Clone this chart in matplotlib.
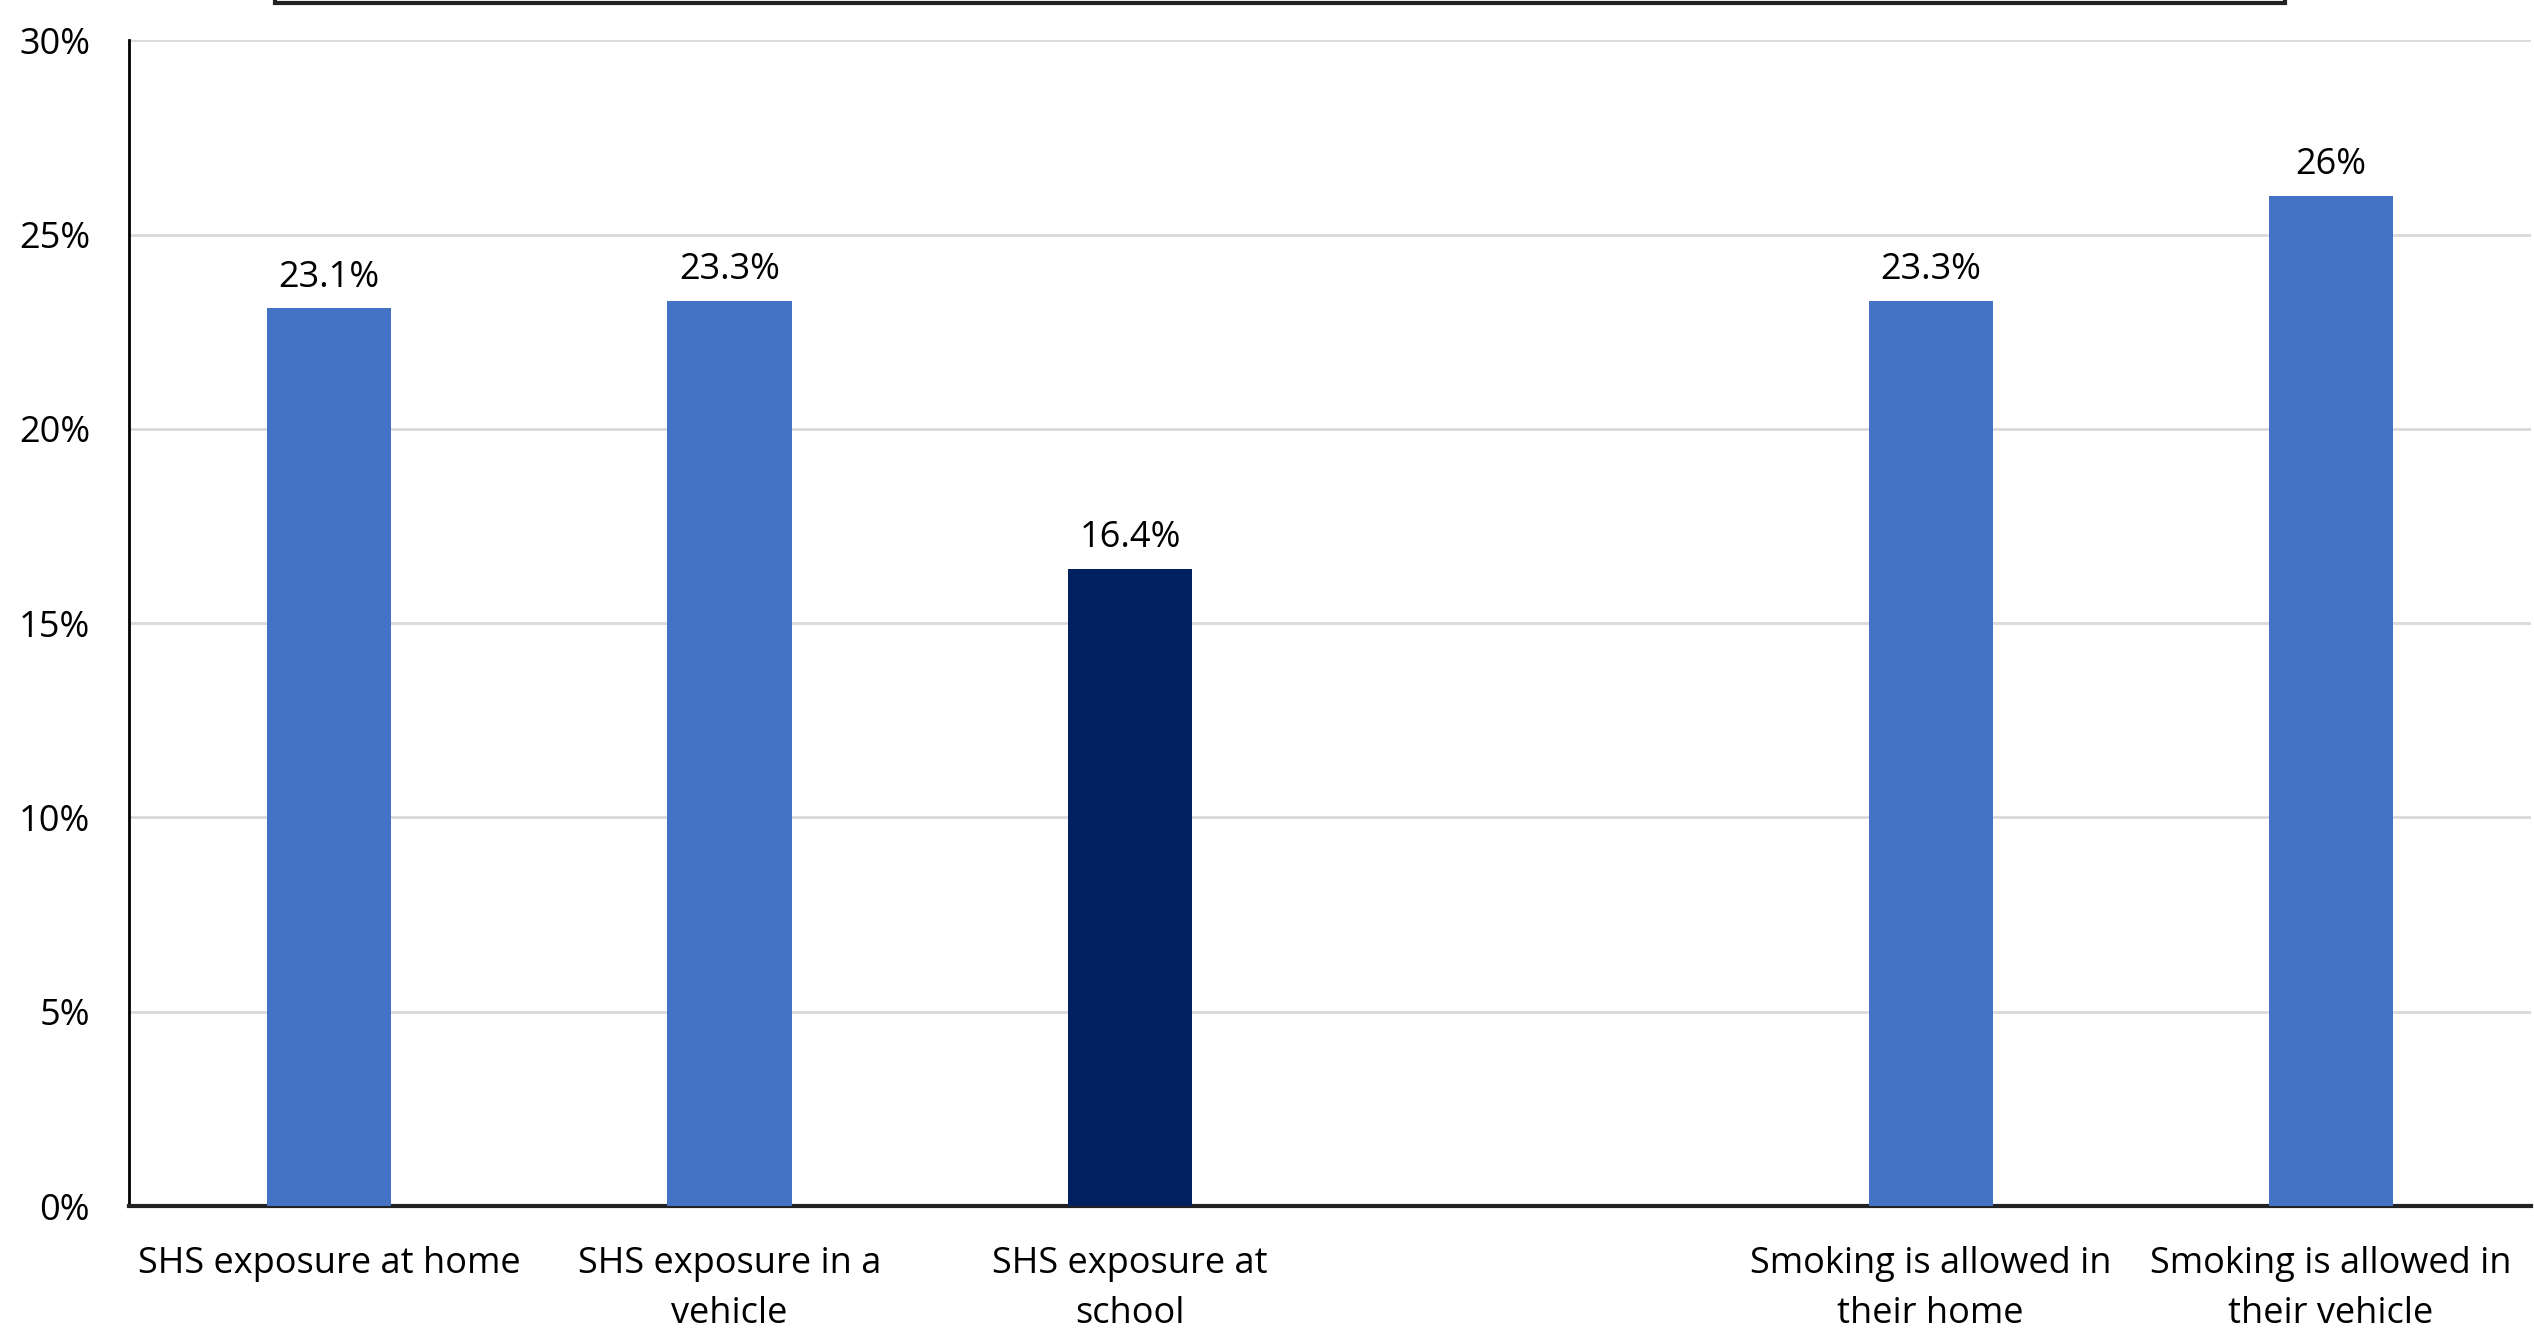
import matplotlib
matplotlib.use("Agg")
import matplotlib.pyplot as plt
from matplotlib.patches import Rectangle
from matplotlib.ticker import PercentFormatter

categories = ["SHS exposure at home", "SHS exposure in a\nvehicle", "SHS exposure at\nschool", "",
              "Smoking is allowed in\ntheir home", "Smoking is allowed in\ntheir vehicle"]
values = [23.1, 23.3, 16.4, None, 23.3, 26.0]
labels = ["23.1%", "23.3%", "16.4%", "", "23.3%", "26%"]
colors = ["#4472C4", "#4472C4", "#002060", "#4472C4", "#4472C4", "#4472C4"]
yticks = [0, 5, 10, 15, 20, 25, 30]

plt.rcParams['font.family'] = ['Open Sans', 'DejaVu Sans']

fig = plt.figure(figsize=(25.34, 13.4), dpi=100)
ax = fig.add_axes([0.0509, 0.1, 0.948, 0.870])

x = list(range(len(categories)))
for i, v in enumerate(values):
    if v is None:
        continue
    ax.bar(i, v, width=0.31, color=colors[i], zorder=3)
    ax.annotate(labels[i], (i, v), xytext=(0, 9), textcoords="offset points",
                ha="center", va="bottom", fontsize=26)

ax.set_xlim(-0.5, len(categories) - 0.5)
ax.set_ylim(0, 30)
ax.set_yticks(yticks)
ax.yaxis.set_major_formatter(PercentFormatter(decimals=0))
ax.set_xticks(x)
ax.set_xticklabels(categories, fontsize=26, linespacing=1.5)
ax.tick_params(axis="both", length=0)
ax.tick_params(axis="x", pad=29)
ax.tick_params(axis="y", pad=28, labelsize=26)
ax.grid(axis="y", color="#D9D9D9", linewidth=2, zorder=0)
for s in ["top", "right"]:
    ax.spines[s].set_visible(False)
ax.spines["left"].set_linewidth(2)
ax.spines["bottom"].set_linewidth(3)
ax.spines["left"].set_color("black")
ax.spines["bottom"].set_color("#222222")

# edge of a box cut off at the top of the picture
fig.patches.append(Rectangle((275 / 2534, 0.9975), (2285 - 275) / 2534, 0.1,
                             transform=fig.transFigure, facecolor="white",
                             edgecolor="#222222", linewidth=3))

fig.savefig("out.png", dpi=100)
